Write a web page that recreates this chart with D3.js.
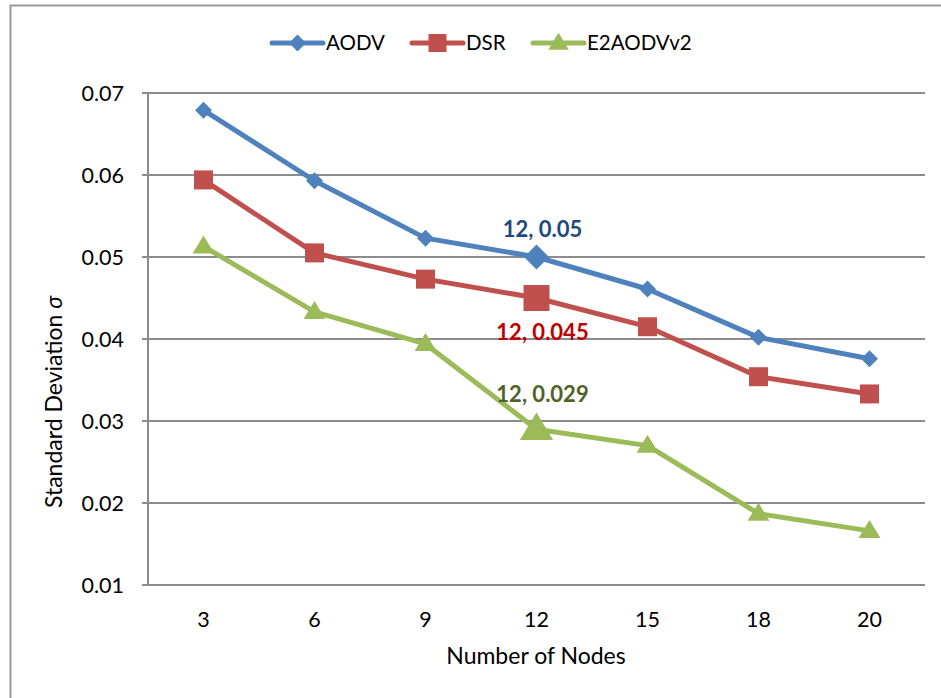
<!DOCTYPE html>
<html><head><meta charset="utf-8">
<script src="https://cdn.jsdelivr.net/npm/d3@7"></script>
<style>body{margin:0;background:#fff;} text{font-family:Lato, "Open Sans", sans-serif;}</style>
</head><body>
<svg id="c" width="941" height="698"></svg>
<script>
const categories = ["3","6","9","12","15","18","20"];
const aodv = [0.0679,0.0593,0.0523,0.05,0.0461,0.0402,0.0376];
const dsr = [0.0594,0.0505,0.0473,0.045,0.0415,0.0354,0.0333];
const e2aodv = [0.0513,0.0433,0.0394,0.029,0.0270,0.0187,0.0166];
const yTicks = [0.01,0.02,0.03,0.04,0.05,0.06,0.07];
const seriesNames = ["AODV","DSR","E2AODVv2"];
const highlightIndex = 3;
const labels = ["12, 0.05","12, 0.045","12, 0.029"];

const svg = d3.select("#c");
const L=148, R=925, T=93, B=585;
svg.append("rect").attr("x",10.5).attr("y",5.5).attr("width",940).attr("height",700)
  .attr("fill","#fff").attr("stroke","#999").attr("stroke-width",2);

const x = d3.scaleBand().domain(categories).range([L,R]);
const y = d3.scaleLinear().domain([0.01,0.07]).range([B,T]);

svg.append("g").selectAll("line").data(yTicks.filter(d=>d>0.01)).join("line")
  .attr("x1",L).attr("x2",R).attr("y1",d=>y(d)).attr("y2",d=>y(d))
  .attr("stroke","#8c8c8c").attr("stroke-width",2);
svg.append("line").attr("x1",L).attr("x2",L).attr("y1",T).attr("y2",B).attr("stroke","#8c8c8c").attr("stroke-width",2);
svg.append("line").attr("x1",L-6).attr("x2",R).attr("y1",B).attr("y2",B).attr("stroke","#8c8c8c").attr("stroke-width",2);
svg.append("g").selectAll("line").data(yTicks).join("line")
  .attr("x1",L-6).attr("x2",L).attr("y1",d=>y(d)).attr("y2",d=>y(d)).attr("stroke","#8c8c8c").attr("stroke-width",2);

svg.append("g").selectAll("text").data(yTicks).join("text")
  .attr("x",124).attr("y",d=>y(d)).attr("dy","0.35em").attr("text-anchor","end")
  .attr("font-size",21.5).attr("fill","#000").text(d=>d.toFixed(2));
svg.append("g").selectAll("text").data(categories).join("text")
  .attr("x",d=>x(d)+x.bandwidth()/2).attr("y",619).attr("dy","0.35em").attr("text-anchor","middle")
  .attr("font-size",21.5).attr("fill","#000").text(d=>d);

svg.append("text").attr("x",536).attr("y",656).attr("dy","0.35em").attr("text-anchor","middle")
  .attr("font-size",23).text("Number of Nodes");
const yl = svg.append("text").attr("transform","translate(54,402) rotate(-90)").attr("text-anchor","middle")
  .attr("dy","0.35em").attr("font-size",23);
yl.append("tspan").text("Standard Deviation ");
yl.append("tspan").attr("font-style","italic").text("σ");

const colors = ["#4F81BD","#C0504D","#9BBB59"];
const labelColors = ["#1F497D","#C00000","#4F6228"];
const data = [aodv,dsr,e2aodv];
const cx = d=>x(d)+x.bandwidth()/2;

function marker(g, type, px, py, s, color){
  if(type===0){
    g.append("path").attr("d",`M${px},${py-s}L${px+s},${py}L${px},${py+s}L${px-s},${py}Z`).attr("fill",color);
  } else if(type===1){
    g.append("rect").attr("x",px-s).attr("y",py-s).attr("width",2*s).attr("height",2*s).attr("fill",color);
  } else {
    g.append("path").attr("d",`M${px},${py-s*1.15}L${px+s*1.15},${py+s*0.75}L${px-s*1.15},${py+s*0.75}Z`).attr("fill",color);
  }
}

data.forEach((vals,si)=>{
  const line = d3.line().x((d,i)=>cx(categories[i])).y(d=>y(d));
  svg.append("path").datum(vals).attr("d",line).attr("fill","none")
    .attr("stroke",colors[si]).attr("stroke-width",5).attr("stroke-linejoin","round");
  const g = svg.append("g");
  vals.forEach((v,i)=>{
    const big = i===highlightIndex;
    const s = si===0 ? (big?12.5:8.5) : si===1 ? (big?13:9.5) : (big?14.5:9.5);
    marker(g, si, cx(categories[i]), y(v), s, colors[si]);
  });
});

const labelOffsets = [-28, 34, -35];
data.forEach((vals,si)=>{
  svg.append("text").attr("x",cx(categories[highlightIndex])+6).attr("y",y(vals[highlightIndex])+labelOffsets[si])
    .attr("dy","0.35em").attr("text-anchor","middle").attr("font-size",22).attr("font-weight","bold")
    .attr("fill",labelColors[si]).text(labels[si]);
});

const legX = [272,412,533];
seriesNames.forEach((n,si)=>{
  const g = svg.append("g");
  g.append("line").attr("x1",legX[si]).attr("x2",legX[si]+51).attr("y1",43).attr("y2",43)
    .attr("stroke",colors[si]).attr("stroke-width",5).attr("stroke-linecap","round");
  marker(g, si, legX[si]+25.5, 43, si===0?8.5:9, colors[si]);
  g.append("text").attr("x",legX[si]+54).attr("y",43).attr("dy","0.35em").attr("font-size",20.5).text(n);
});
</script>
</body></html>
